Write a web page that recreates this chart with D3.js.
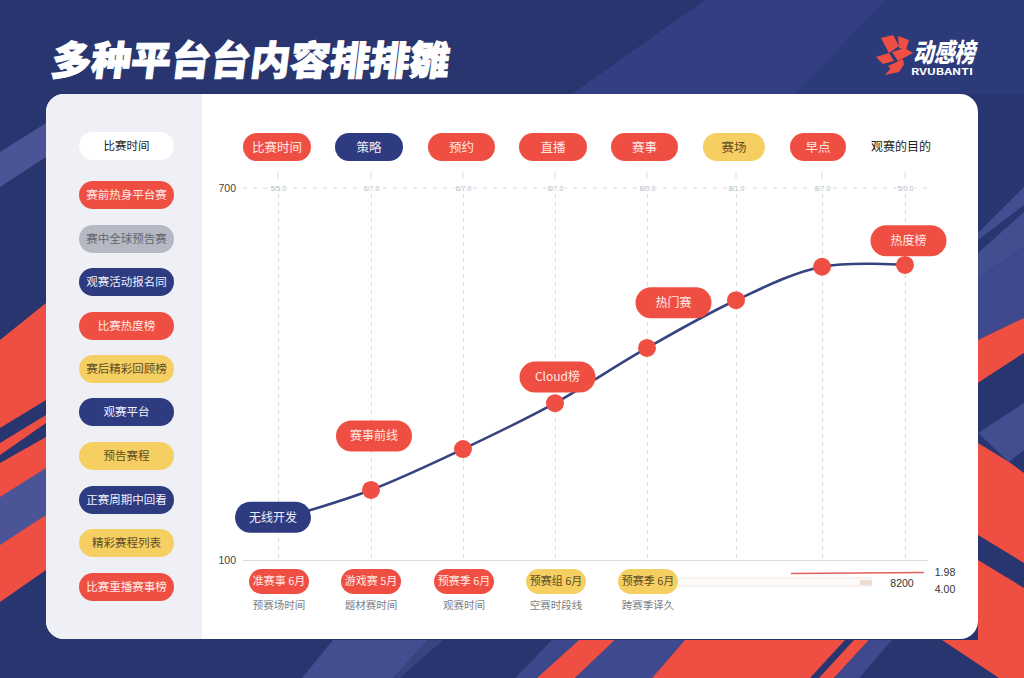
<!DOCTYPE html>
<html lang="zh">
<head>
<meta charset="UTF-8">
<title>多种平台台内容排排雛</title>
<script src="https://d3js.org/d3.v7.min.js"></script>
<style>
    html, body { margin: 0; padding: 0; background: #28356f; overflow: hidden; }
    svg { display: block; }
    text { font-family: "Noto Sans CJK SC", "Noto Sans", sans-serif; }
</style>
</head>
<body>
<script>
    // chart values
    var times = [0, 93, 185, 277, 369, 458, 544, 627]
    var heat = [165, 213, 279, 353, 442, 519, 573, 576]
    var yTicks = [100, 700]
    var timeLabels = ['5/5.0', '6/7.0', '6/7.0', '8/7.0', '8/0.0', '8/1.0', '8/7.0', '5/0.0']

    var sideNames = ['比赛时间', '赛前热身平台赛', '赛中全球预告赛', '观赛活动报名同', '比赛热度榜', '赛后精彩回顾榜', '观赛平台', '预告赛程', '正赛周期中回看', '精彩赛程列表', '比赛重播赛事榜']
    var sideKinds = ['white', 'red', 'grey', 'navy', 'red', 'yellow', 'navy', 'yellow', 'navy', 'yellow', 'red']

    var topNames = ['比赛时间', '策略', '预约', '直播', '赛事', '赛场', '早点']
    var topKinds = ['red', 'navy', 'red', 'red', 'red', 'yellow', 'red']
    var topLegend = '观赛的目的'

    var noteNames = ['无线开发', '赛事前线', 'Cloud榜', '热门赛', '热度榜']
    var noteKinds = ['navy', 'red', 'red', 'red', 'red']
    var noteTimes = [-5, 96, 279.5, 395.5, 630.5]
    var noteHeat = [169, 300, 395, 515, 615]

    var bottomNames = ['准赛事 6月', '游戏赛 5月', '预赛季 6月', '预赛组 6月', '预赛季 6月']
    var bottomKinds = ['red', 'red', 'red', 'yellow', 'yellow']
    var bottomSubs = ['预赛场时间', '题材赛时间', '观赛时间', '空赛时段线', '跨赛季译久']
    var bottomTimes = [0, 92, 185, 277, 369]

    var w = 1024, h = 678

    var fills = { red: '#ef4f43', navy: '#2f3b80', yellow: '#f6cf63', grey: '#b6b9c3', white: '#ffffff' }
    var inks = { red: '#ffe9e4', navy: '#eef0fa', yellow: '#5d4c22', grey: '#63666f', white: '#222222' }

    var svg = d3.select('body')
        .append('svg')
        .attr('width', w)
        .attr('height', h)

    // background shapes
    var bgShapes = [
        ['#2d3a79', '705,0 1024,0 1024,94 572,94'],
        ['#333f82', '705,0 885,0 795,94 572,94'],
        ['#4a5497', '0,152 46,123 46,157 0,187'],
        ['#ef4f43', '0,340 46,303 46,570 0,602'],
        ['#28356f', '0,428 46,400 46,415 0,443'],
        ['#28356f', '0,455 46,423 46,437 0,463'],
        ['#4a5497', '0,497 46,468 46,515 0,545'],
        ['#434e91', '978,233 1024,187 1024,205 978,240'],
        ['#434e91', '978,253 1024,212 1024,247 978,278'],
        ['#3f4a8e', '978,278 1024,247 1024,318 978,340'],
        ['#ef4f43', '978,340 1024,318 1024,353 978,383'],
        ['#28356f', '978,383 1024,353 1024,412 978,433'],
        ['#434e91', '978,433 1024,403 1024,450 1009,462'],
        ['#ef4f43', '978,443 1009,462 1024,473 1024,640 978,640'],
        ['#28356f', '978,535 1024,563 1024,588 978,560'],
        ['#3d478c', '552,640 579,640 537,678 515,678'],
        ['#ef4f43', '579,640 615,640 575,678 537,678'],
        ['#3f4a8e', '615,640 685,640 652,678 575,678'],
        ['#ef4f43', '685,640 845,640 810,678 652,678'],
        ['#ef4f43', '854,640 869,640 834,678 819,678'],
        ['#3f4a8e', '869,640 892,640 859,678 834,678'],
        ['#ef4f43', '942,640 1024,640 1024,678 999,678'],
        ['#434e91', '333,640 428,640 393,678 302,678'],
        ['#38437f', '428,640 443,640 400,678 393,678']
    ]

    svg.append('g').selectAll('polygon')
        .data(bgShapes)
        .enter()
        .append('polygon')
        .attr('fill', d => d[0])
        .attr('points', d => d[1])

    // title
    svg.append('text')
        .attr('transform', 'translate(50,75) skewX(-7)')
        .attr('fill', '#fff')
        .attr('stroke', '#fff')
        .attr('stroke-width', 1)
        .attr('font-size', 40)
        .attr('font-weight', 900)
        .attr('textLength', 398)
        .attr('lengthAdjust', 'spacingAndGlyphs')
        .text('多种平台台内容排排雛')

    // logo
    var logoShapes = [
        '881,38 893,35 899,46 889,53',
        '898,36 909,40 906,50 899,48',
        '876,57 889,53 894,61 883,64',
        '892,52 905,48 913,53 898,61',
        '888,66 903,59 904,65 892,71',
        '885,75 891,68 903,66 899,72'
    ]
    svg.append('g').selectAll('polygon')
        .data(logoShapes)
        .enter()
        .append('polygon')
        .attr('fill', '#ef4f43')
        .attr('points', d => d)

    svg.append('text')
        .attr('transform', 'translate(913,62) skewX(-12)')
        .attr('fill', '#fff')
        .attr('font-size', 26)
        .attr('font-weight', 900)
        .attr('textLength', 62)
        .attr('lengthAdjust', 'spacingAndGlyphs')
        .text('动感榜')

    svg.append('text')
        .attr('x', 911)
        .attr('y', 75)
        .attr('fill', '#fff')
        .attr('font-size', 9)
        .attr('font-weight', 700)
        .attr('textLength', 62)
        .attr('lengthAdjust', 'spacingAndGlyphs')
        .text('RVUBANTI')

    // card
    svg.append('rect')
        .attr('x', 46).attr('y', 94)
        .attr('width', 932).attr('height', 545)
        .attr('rx', 18)
        .attr('fill', '#fff')

    svg.append('path')
        .attr('d', 'M202,94 H64 A18,18 0 0 0 46,112 V621 A18,18 0 0 0 64,639 H202 Z')
        .attr('fill', '#eef0f5')

    // scales
    var xScale = d3.scaleLinear()
        .domain([0, 627])
        .range([278, 905])

    var yScale = d3.scaleLinear()
        .domain([100, 700])
        .range([560, 188])

    // grid
    var grid = svg.append('g')
        .attr('transform', 'translate(0,558)')
        .call(d3.axisTop(xScale).tickValues(times).tickSize(364).tickFormat(''))
    grid.select('.domain').remove()
    grid.selectAll('line')
        .attr('stroke', '#d9dbe0')
        .attr('stroke-dasharray', '4 4')

    svg.append('line')
        .attr('x1', 243).attr('x2', 928)
        .attr('y1', 188).attr('y2', 188)
        .attr('stroke', '#d5d7dc')
        .attr('stroke-dasharray', '4 6')

    var topAxis = svg.append('g')
        .attr('transform', 'translate(0,188)')
        .call(d3.axisTop(xScale).tickValues(times).tickSize(0).tickPadding(0)
            .tickFormat((d, i) => timeLabels[i]))
    topAxis.select('.domain').remove()
    topAxis.selectAll('text')
        .attr('dy', 3)
        .attr('font-size', 7)
        .attr('fill', '#b4b6bc')
        .attr('stroke', '#fff')
        .attr('stroke-width', 3)
        .attr('paint-order', 'stroke')
        .style('font-family', '"Liberation Sans", sans-serif')

    // small marks over the top axis
    svg.append('g').selectAll('line')
        .data(times)
        .enter()
        .append('line')
        .attr('x1', d => xScale(d)).attr('x2', d => xScale(d))
        .attr('y1', 172).attr('y2', 179)
        .attr('stroke', '#dcdde1')

    var yAxis = svg.append('g')
        .attr('transform', 'translate(236,0)')
        .call(d3.axisLeft(yScale).tickValues(yTicks).tickSize(0).tickPadding(0))
    yAxis.select('.domain').remove()
    yAxis.selectAll('text')
        .attr('font-size', 10.5)
        .attr('fill', '#444')
        .style('font-family', '"Liberation Sans", sans-serif')

    svg.append('line')
        .attr('x1', 243).attr('x2', 928)
        .attr('y1', 560.5).attr('y2', 560.5)
        .attr('stroke', '#d9dbe0')

    // line and points
    var line = d3.line()
        .x((d, i) => xScale(times[i]))
        .y(d => yScale(d))
        .curve(d3.curveCatmullRom)

    svg.append('path')
        .attr('d', line(heat))
        .attr('fill', 'none')
        .attr('stroke', '#36437f')
        .attr('stroke-width', 2.6)

    svg.append('g').selectAll('circle')
        .data(heat)
        .enter()
        .append('circle')
        .attr('cx', (d, i) => xScale(times[i]))
        .attr('cy', d => yScale(d))
        .attr('r', 9)
        .attr('fill', '#ef4f43')

    // draws one row of pills
    function pills(names, kinds, xs, ys, ws, ph, size) {
        var g = svg.append('g').selectAll('g')
            .data(names)
            .enter()
            .append('g')
            .attr('transform', (d, i) => 'translate(' + xs(i) + ',' + ys(i) + ')')

        g.append('rect')
            .attr('x', (d, i) => -ws(i) / 2)
            .attr('y', -ph / 2)
            .attr('width', (d, i) => ws(i))
            .attr('height', ph)
            .attr('rx', ph / 2)
            .attr('fill', (d, i) => fills[kinds[i]])

        g.append('text')
            .attr('text-anchor', 'middle')
            .attr('dy', '0.36em')
            .attr('font-size', size)
            .attr('fill', (d, i) => inks[kinds[i]])
            .text(d => d)
    }

    // left column
    var sideY = [146, 195, 239, 282, 326, 369, 412, 456, 500, 543, 587]
    pills(sideNames, sideKinds, () => 126.5, i => sideY[i], () => 95, 28, 11.5)

    // top row
    var topX = [277, 369, 461.5, 553, 644.5, 734, 818]
    var topW = [68, 68, 67, 68, 67, 62, 56]
    pills(topNames, topKinds, i => topX[i], () => 147, i => topW[i], 28, 12.5)

    svg.append('text')
        .attr('x', 871)
        .attr('y', 151)
        .attr('font-size', 12)
        .attr('fill', '#222')
        .text(topLegend)

    // callouts on the line
    pills(noteNames, noteKinds,
        i => xScale(noteTimes[i]), i => yScale(noteHeat[i]),
        () => 76, 31, 12)

    // bottom row
    pills(bottomNames, bottomKinds,
        i => xScale(bottomTimes[i]) + 1, () => 581.5, () => 60, 25, 11)

    svg.append('g').selectAll('text')
        .data(bottomSubs)
        .enter()
        .append('text')
        .attr('x', (d, i) => xScale(bottomTimes[i]) + 1)
        .attr('y', 609)
        .attr('text-anchor', 'middle')
        .attr('font-size', 10.5)
        .attr('fill', '#7b7d84')
        .text(d => d)

    // bottom right legend bits
    svg.append('line')
        .attr('x1', 791).attr('x2', 924)
        .attr('y1', 573.5).attr('y2', 572.5)
        .attr('stroke', '#e0605a')
        .attr('stroke-width', 1.6)

    svg.append('rect')
        .attr('x', 678).attr('y', 578)
        .attr('width', 194).attr('height', 8)
        .attr('fill', '#fdfbf9')

    svg.append('g').selectAll('line')
        .data([578, 586])
        .enter()
        .append('line')
        .attr('x1', 678).attr('x2', 872)
        .attr('y1', d => d).attr('y2', d => d)
        .attr('stroke', '#efe6df')

    svg.append('rect')
        .attr('x', 860).attr('y', 580)
        .attr('width', 12).attr('height', 5)
        .attr('fill', '#f0ddd2')

    var endValues = ['8200', '1.98', '4.00']
    var endX = [902, 945, 945]
    var endY = [587, 576, 593]
    svg.append('g').selectAll('text')
        .data(endValues)
        .enter()
        .append('text')
        .attr('x', (d, i) => endX[i])
        .attr('y', (d, i) => endY[i])
        .attr('text-anchor', 'middle')
        .attr('font-size', 10.5)
        .attr('fill', '#333')
        .style('font-family', '"Liberation Sans", sans-serif')
        .text(d => d)
</script>
</body>
</html>
